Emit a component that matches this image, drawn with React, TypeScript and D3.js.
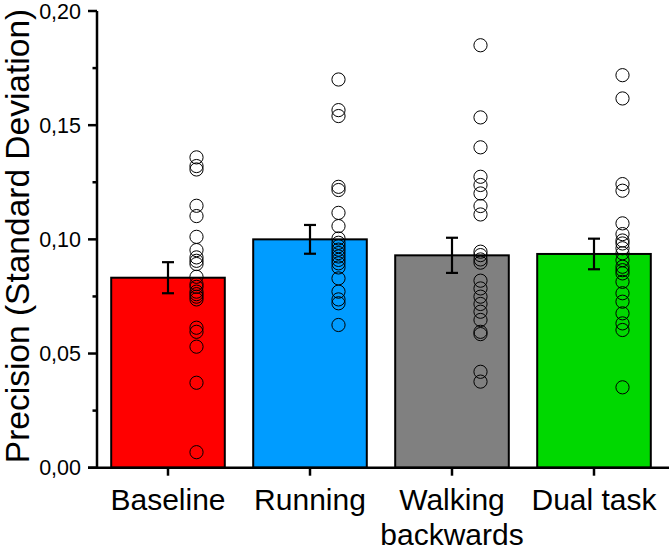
import React from "react";
import * as d3 from "d3";

const categories = ["Baseline", "Running", "Walking backwards", "Dual task"];
const labelLines = [["Baseline"], ["Running"], ["Walking", "backwards"], ["Dual task"]];
const means = [0.0832, 0.1, 0.093, 0.0936];
const sems = [0.0068, 0.0063, 0.0077, 0.0067];
const colors = ["#ff0000", "#009cff", "#808080", "#00d800"];

const baselineDots = [0.1359, 0.1321, 0.1306, 0.1147, 0.1102, 0.1011, 0.0953, 0.0921, 0.0906, 0.0892, 0.0836, 0.0804, 0.0792, 0.0771, 0.076, 0.0749, 0.0737, 0.0613, 0.0595, 0.053, 0.0372, 0.0068];
const runningDots = [0.17, 0.1566, 0.154, 0.123, 0.1216, 0.1116, 0.1058, 0.1004, 0.0985, 0.097, 0.0955, 0.094, 0.0925, 0.091, 0.0895, 0.0877, 0.0829, 0.0771, 0.0737, 0.072, 0.0625];
const walkingDots = [0.185, 0.1534, 0.1403, 0.1274, 0.1238, 0.1201, 0.1146, 0.1109, 0.0946, 0.0931, 0.0912, 0.0898, 0.0819, 0.0785, 0.0749, 0.0717, 0.0683, 0.0647, 0.0595, 0.0585, 0.042, 0.0377];
const dualDots = [0.1719, 0.1617, 0.1242, 0.1213, 0.107, 0.1023, 0.0995, 0.0982, 0.0961, 0.0939, 0.0909, 0.088, 0.0865, 0.0851, 0.0814, 0.0764, 0.0727, 0.0676, 0.0632, 0.0603, 0.0352];
const dots = [baselineDots, runningDots, walkingDots, dualDots];

const yMajor = [0, 0.05, 0.1, 0.15, 0.2];
const yMinor = [0.025, 0.075, 0.125, 0.175];
const yTickLabels = ["0,00", "0,05", "0,10", "0,15", "0,20"];
const yTitle = "Precision (Standard Deviation)";

export default function App() {
  const W = 669, H = 550;
  const axisX = 97;
  const y = d3.scaleLinear().domain([0, 0.2]).range([467.7, 11]);
  const x = d3.scaleBand<string>().domain(categories).range([axisX, 665]).paddingInner(0.2).paddingOuter(0.1);
  const bw = x.bandwidth();
  const font = "'Liberation Sans', Arial, sans-serif";
  const y0 = y(0);
  return (
    <svg width={W} height={H} style={{ position: "absolute", left: 0, top: 0, background: "#fff" }} fontFamily={font}>
      {categories.map((c, i) => {
        const cx = (x(c) as number) + bw / 2;
        return (
          <g key={c}>
            <rect x={x(c)} y={y(means[i])} width={bw} height={y0 - y(means[i])} fill={colors[i]} stroke="#000" strokeWidth={2} />
            <line x1={cx} x2={cx} y1={y(means[i] + sems[i])} y2={y(means[i] - sems[i])} stroke="#000" strokeWidth={2.2} />
            <line x1={cx - 6} x2={cx + 6} y1={y(means[i] + sems[i])} y2={y(means[i] + sems[i])} stroke="#000" strokeWidth={2.2} />
            <line x1={cx - 6} x2={cx + 6} y1={y(means[i] - sems[i])} y2={y(means[i] - sems[i])} stroke="#000" strokeWidth={2.2} />
            {dots[i].map((v, j) => (
              <circle key={j} cx={cx + 28.5} cy={y(v)} r={6.6} fill="none" stroke="#000" strokeWidth={1} />
            ))}
          </g>
        );
      })}
      {/* axes */}
      <line x1={axisX} x2={axisX} y1={y(0.2)} y2={y0 + 1.2} stroke="#000" strokeWidth={2.5} />
      <line x1={88} x2={669} y1={y0} y2={y0} stroke="#000" strokeWidth={2.5} />
      {yMajor.map((v, i) => (
        <g key={v}>
          <line x1={axisX - 9} x2={axisX} y1={y(v)} y2={y(v)} stroke="#000" strokeWidth={2.5} />
          <text x={81} y={y(v)} dy="0.36em" textAnchor="end" fontSize={21.5}>{yTickLabels[i]}</text>
        </g>
      ))}
      {yMinor.map((v) => (
        <line key={v} x1={axisX - 4.5} x2={axisX} y1={y(v)} y2={y(v)} stroke="#000" strokeWidth={2.5} />
      ))}
      {categories.map((c, i) => {
        const cx = (x(c) as number) + bw / 2;
        return (
          <g key={c}>
            <line x1={cx} x2={cx} y1={y0} y2={y0 + 8} stroke="#000" strokeWidth={2.5} />
            {labelLines[i].map((t, k) => (
              <text key={k} x={cx} y={510 + k * 35} textAnchor="middle" fontSize={30}>{t}</text>
            ))}
          </g>
        );
      })}
      <text transform={`translate(29,${236}) rotate(-90)`} textAnchor="middle" fontSize={33.5}>{yTitle}</text>
    </svg>
  );
}
